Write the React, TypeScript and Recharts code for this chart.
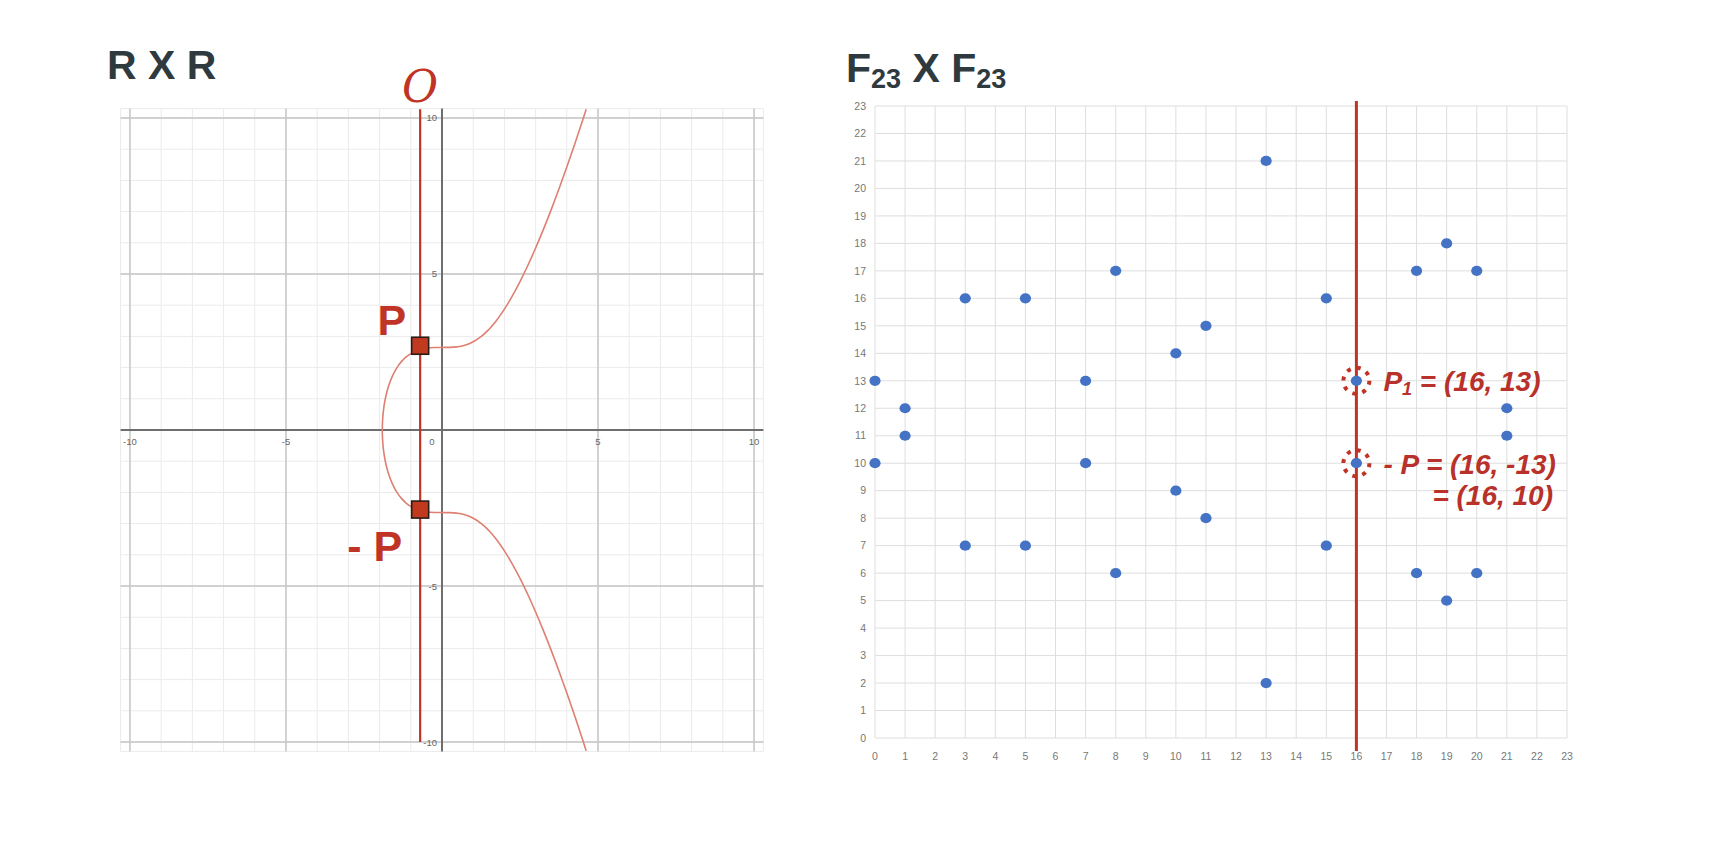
import React from 'react';
import { ScatterChart, Scatter, XAxis, YAxis, CartesianGrid, ReferenceLine } from 'recharts';

// ---------- Left chart: R x R (curve y^2 = x^3 + 7) ----------
const realMinorTicks = [-10, -9, -8, -7, -6, -5, -4, -3, -2, -1, 0, 1, 2, 3, 4, 5, 6, 7, 8, 9, 10];
const realMajorTicks = [-10, -5, 5, 10];
const realAxisAt = 0;
const realXLabels = [-10, -5, 0, 5, 10];
const realYLabels = [10, 5, -5, -10];

// points, ordered bottom to top
const curvePoints = [
  { x: 4.62, y: -10.276 }, { x: 4.5, y: -9.906 }, { x: 4.25, y: -9.153 }, { x: 4.0, y: -8.426 },
  { x: 3.75, y: -7.729 }, { x: 3.5, y: -7.062 }, { x: 3.25, y: -6.429 }, { x: 3.0, y: -5.831 },
  { x: 2.75, y: -5.272 }, { x: 2.5, y: -4.757 }, { x: 2.25, y: -4.289 }, { x: 2.0, y: -3.873 },
  { x: 1.75, y: -3.516 }, { x: 1.5, y: -3.221 }, { x: 1.25, y: -2.992 }, { x: 1.0, y: -2.828 },
  { x: 0.75, y: -2.724 }, { x: 0.5, y: -2.669 }, { x: 0.25, y: -2.649 }, { x: 0, y: -2.646 },
  { x: -0.25, y: -2.643 }, { x: -0.5, y: -2.622 }, { x: -0.7, y: -2.58 }, { x: -0.85, y: -2.527 },
  { x: -1.0, y: -2.449 }, { x: -1.15, y: -2.341 }, { x: -1.3, y: -2.192 }, { x: -1.4, y: -2.063 },
  { x: -1.5, y: -1.904 }, { x: -1.6, y: -1.704 }, { x: -1.7, y: -1.445 }, { x: -1.75, y: -1.281 },
  { x: -1.8, y: -1.081 }, { x: -1.85, y: -0.818 }, { x: -1.87, y: -0.679 }, { x: -1.89, y: -0.499 },
  { x: -1.9, y: -0.375 }, { x: -1.91, y: -0.179 }, { x: -1.913, y: 0 },
  { x: -1.91, y: 0.179 }, { x: -1.9, y: 0.375 }, { x: -1.89, y: 0.499 }, { x: -1.87, y: 0.679 },
  { x: -1.85, y: 0.818 }, { x: -1.8, y: 1.081 }, { x: -1.75, y: 1.281 }, { x: -1.7, y: 1.445 },
  { x: -1.6, y: 1.704 }, { x: -1.5, y: 1.904 }, { x: -1.4, y: 2.063 }, { x: -1.3, y: 2.192 },
  { x: -1.15, y: 2.341 }, { x: -1.0, y: 2.449 }, { x: -0.85, y: 2.527 }, { x: -0.7, y: 2.58 },
  { x: -0.5, y: 2.622 }, { x: -0.25, y: 2.643 }, { x: 0, y: 2.646 }, { x: 0.25, y: 2.649 },
  { x: 0.5, y: 2.669 }, { x: 0.75, y: 2.724 }, { x: 1.0, y: 2.828 }, { x: 1.25, y: 2.992 },
  { x: 1.5, y: 3.221 }, { x: 1.75, y: 3.516 }, { x: 2.0, y: 3.873 }, { x: 2.25, y: 4.289 },
  { x: 2.5, y: 4.757 }, { x: 2.75, y: 5.272 }, { x: 3.0, y: 5.831 }, { x: 3.25, y: 6.429 },
  { x: 3.5, y: 7.062 }, { x: 3.75, y: 7.729 }, { x: 4.0, y: 8.426 }, { x: 4.25, y: 9.153 },
  { x: 4.5, y: 9.906 }, { x: 4.62, y: 10.276 },
];

const verticalLine = [
  { x: -0.7, y: -10, label: '' },
  { x: -0.7, y: 10.28, label: 'O' },
];
const pointMarkers = [
  { x: -0.7, y: 2.7, label: 'P' },
  { x: -0.7, y: -2.55, label: '- P' },
];
const xLabelData = realXLabels.map((v) => ({ x: v, y: 0, label: String(v) }));
const yLabelData = realYLabels.map((v) => ({ x: 0, y: v, label: String(v) }));

// ---------- Right chart: F23 x F23 ----------
const f23Ticks = [0, 1, 2, 3, 4, 5, 6, 7, 8, 9, 10, 11, 12, 13, 14, 15, 16, 17, 18, 19, 20, 21, 22, 23];
const f23Points = [
  { x: 0, y: 10 }, { x: 0, y: 13 }, { x: 1, y: 11 }, { x: 1, y: 12 },
  { x: 3, y: 7 }, { x: 3, y: 16 }, { x: 5, y: 7 }, { x: 5, y: 16 },
  { x: 7, y: 10 }, { x: 7, y: 13 }, { x: 8, y: 6 }, { x: 8, y: 17 },
  { x: 10, y: 9 }, { x: 10, y: 14 }, { x: 11, y: 8 }, { x: 11, y: 15 },
  { x: 13, y: 2 }, { x: 13, y: 21 }, { x: 15, y: 7 }, { x: 15, y: 16 },
  { x: 16, y: 10 }, { x: 16, y: 13 }, { x: 18, y: 6 }, { x: 18, y: 17 },
  { x: 19, y: 5 }, { x: 19, y: 18 }, { x: 20, y: 6 }, { x: 20, y: 17 },
  { x: 21, y: 11 }, { x: 21, y: 12 },
];
const f23LineX = 16;
const f23LineSpan = [-0.47, 23.18];
const f23Marked = [
  { x: 16, y: 13, kind: 'p' },
  { x: 16, y: 10, kind: 'neg' },
];

const RED = '#bf3426';
const TXT_RED = '#b8312a';
const TITLE = '#2f3a3f';
const FONT = "'Liberation Sans', Arial, sans-serif";

const Nothing = () => <g />;

const OLabel = (props: any) => {
  const { cx, cy, payload } = props;
  if (payload.label !== 'O') return <g />;
  return (
    <text x={cx} y={cy - 7} textAnchor="middle" fontSize={44} fontStyle="italic"
      fontFamily="'DejaVu Serif', 'Liberation Serif', serif" fill={RED}>O</text>
  );
};

const PMarker = (props: any) => {
  const { cx, cy, payload } = props;
  const top = payload.y > 0;
  return (
    <g>
      <rect x={cx - 8.5} y={cy - 8.5} width={17} height={17} fill="#c13a1f" stroke="#2a1c18" strokeWidth={1.6} />
      <text x={cx - (top ? 14 : 18)} y={cy + (top ? -10.5 : 51.5)} textAnchor="end" fontSize={43}
        fontWeight="bold" fontFamily={FONT} fill={RED}>{payload.label}</text>
    </g>
  );
};

const XTickText = (props: any) => {
  const { cx, cy, payload } = props;
  const dx = payload.x === 0 ? -10 : 0;
  return (
    <text x={cx + dx} y={cy + 15} textAnchor="middle" fontSize={9.5} fontFamily={FONT} fill="#666">{payload.label}</text>
  );
};

const YTickText = (props: any) => {
  const { cx, cy, payload } = props;
  return (
    <text x={cx - 5} y={cy + 3.5} textAnchor="end" fontSize={9.5} fontFamily={FONT} fill="#666">{payload.label}</text>
  );
};

const BlueDot = (props: any) => {
  const { cx, cy } = props;
  return <ellipse cx={cx} cy={cy} rx={5.6} ry={5.1} fill="#4472c4" />;
};

const MarkedLabel = (props: any) => {
  const { cx, cy, payload } = props;
  const common = { fontSize: 28, fontWeight: 'bold' as const, fontStyle: 'italic', fontFamily: FONT, fill: TXT_RED };
  return (
    <g>
      <circle cx={cx} cy={cy} r={13} fill="none" stroke={RED} strokeWidth={4} strokeDasharray="4 6.2" />
      {payload.kind === 'p' ? (
        <text x={cx + 27} y={cy + 10} {...common}>
          P<tspan fontSize={18} dy={4}>1</tspan><tspan dy={-4}> = (16, 13)</tspan>
        </text>
      ) : (
        <g>
          <text x={cx + 27} y={cy + 11} {...common}>- P = (16, -13)</text>
          <text x={cx + 76} y={cy + 42} {...common}>= (16, 10)</text>
        </g>
      )}
    </g>
  );
};

const realDomain: [number, number] = [-10.3, 10.3];

export default function App() {
  return (
    <div style={{ position: 'absolute', left: 0, top: 0, width: 1724, height: 862, background: '#fff', overflow: 'hidden' }}>
      <svg width={1724} height={862} style={{ position: 'absolute', left: 0, top: 0 }}>
        <text x={107} y={79} fontSize={41} fontWeight="bold" fontFamily={FONT} fill={TITLE}>R X R</text>
        <text x={846} y={82} fontSize={41} fontWeight="bold" fontFamily={FONT} fill={TITLE}>
          F<tspan fontSize={27} dy={6}>23</tspan><tspan dy={-6}> X F</tspan><tspan fontSize={27} dy={6}>23</tspan>
        </text>
      </svg>

      <div style={{ position: 'absolute', left: 0, top: 0 }}>
        <ScatterChart width={800} height={800} margin={{ top: 108.6, right: 36.6, bottom: 48.6, left: 120.6 }}>
          <XAxis dataKey="x" type="number" domain={realDomain} ticks={realMinorTicks} hide />
          <YAxis dataKey="y" type="number" domain={realDomain} ticks={realMinorTicks} hide />
          <CartesianGrid stroke="#ebebeb" strokeWidth={1} />
          {realMajorTicks.map((v) => (
            <ReferenceLine key={'mx' + v} x={v} stroke="#c4c4c4" strokeWidth={1.4} />
          ))}
          {realMajorTicks.map((v) => (
            <ReferenceLine key={'my' + v} y={v} stroke="#c4c4c4" strokeWidth={1.4} />
          ))}
          <ReferenceLine x={realAxisAt} stroke="#6e6e6e" strokeWidth={2} />
          <ReferenceLine y={realAxisAt} stroke="#6e6e6e" strokeWidth={2} />
          <Scatter data={xLabelData} shape={XTickText} isAnimationActive={false} />
          <Scatter data={yLabelData} shape={YTickText} isAnimationActive={false} />
          <Scatter data={curvePoints} line={{ stroke: '#de7f72', strokeWidth: 1.6 }}
            lineJointType="monotoneY" shape={Nothing} isAnimationActive={false} />
          <Scatter data={verticalLine} line={{ stroke: RED, strokeWidth: 2.2 }}
            shape={OLabel} isAnimationActive={false} />
          <Scatter data={pointMarkers} shape={PMarker} isAnimationActive={false} />
        </ScatterChart>
      </div>

      <div style={{ position: 'absolute', left: 800, top: 0 }}>
        <ScatterChart width={900} height={800} margin={{ top: 106, right: 133, bottom: 32, left: 45 }}>
          <CartesianGrid stroke="#dedede" strokeWidth={1} />
          <XAxis dataKey="x" type="number" domain={[0, 23]} ticks={f23Ticks} interval={0} axisLine={false}
            tickLine={false} height={30} tickMargin={9} tick={{ fontSize: 10.5, fill: '#777', fontFamily: FONT }} />
          <YAxis dataKey="y" type="number" domain={[0, 23]} ticks={f23Ticks} interval={0} axisLine={false}
            tickLine={false} width={30} tickMargin={3} tick={{ fontSize: 10.5, fill: '#777', fontFamily: FONT }} />
          <Scatter data={f23Points} shape={BlueDot} isAnimationActive={false} />
          <ReferenceLine segment={[{ x: f23LineX, y: f23LineSpan[0] }, { x: f23LineX, y: f23LineSpan[1] }]}
            ifOverflow="visible" stroke={RED} strokeWidth={3} />
          <Scatter data={f23Marked} shape={MarkedLabel} isAnimationActive={false} />
        </ScatterChart>
      </div>
    </div>
  );
}
